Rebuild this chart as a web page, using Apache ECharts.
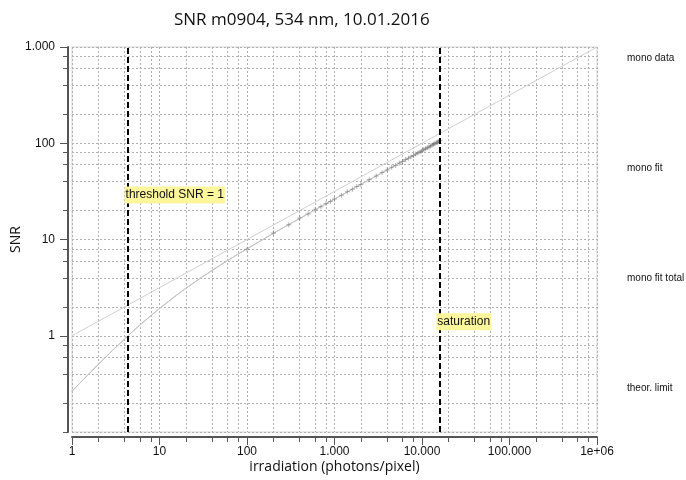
<!DOCTYPE html>
<html>
<head>
<meta charset="utf-8">
<script src="https://cdn.jsdelivr.net/npm/echarts@6/dist/echarts.min.js"></script>
<style>
  html, body { margin: 0; padding: 0; background: #fff; }
  #main { width: 686px; height: 480px; }
</style>
</head>
<body>
<div id="main"></div>
<script>
// tick positions and labels
var xTicks = [1, 2, 4, 6, 8, 10, 20, 40, 60, 80, 100, 200, 400, 600, 800,
    1000, 2000, 4000, 6000, 8000, 10000, 20000, 40000, 60000, 80000,
    100000, 200000, 400000, 600000, 800000, 1000000];
var xMajor = [1, 10, 100, 1000, 10000, 100000, 1000000];
var xLabels = ['1', '10', '100', '1.000', '10.000', '100.000', '1e+06'];
var yTicks = [0.1, 0.2, 0.4, 0.6, 0.8, 1, 2, 4, 6, 8, 10, 20, 40, 60, 80,
    100, 200, 400, 600, 800, 1000];
var yMajor = [1, 10, 100, 1000];
var yLabels = ['1', '10', '100', '1.000'];

// mono data
var dataX = [100, 200, 300, 400, 500, 600, 700, 800, 900, 1000, 1200, 1400, 1600, 1800, 2000,
    2500, 3000, 3500, 4000, 4500, 5000, 5500, 6000, 6500, 7000, 7500, 8000, 8500, 9000, 9500,
    10000, 10500, 11000, 11500, 12000, 12500, 13000, 13500, 14000, 14500, 15000, 15500, 16000];
var dataSnr = [7.9, 11.7, 14.2, 16.7, 18.4, 20.4, 21.9, 23.6, 24.8, 26.4, 28.8, 31.3, 33.3, 35.5, 37.2,
    41.9, 45.6, 49.6, 52.7, 56.3, 58.9, 62.2, 64.6, 67.6, 69.8, 72.6, 74.6, 77.3, 79.1, 81.8,
    83.4, 86.0, 87.6, 90.0, 91.5, 93.8, 95.3, 97.5, 99.0, 101.0, 102.6, 104.5, 106.5];

// mono fit
var fitX = [1, 1.5, 2, 3, 4.37, 6, 10, 15, 20, 30, 50, 70, 100, 150, 200, 300, 500, 700,
    1000, 1500, 2000, 3000, 5000, 7000, 10000, 16000];
var fitSnr = [0.265, 0.387, 0.505, 0.725, 1.0, 1.3, 1.92, 2.56, 3.11, 4.02, 5.45, 6.59, 8.01,
    9.95, 11.57, 14.28, 18.54, 21.99, 26.34, 32.31, 37.33, 45.76, 59.11, 69.96, 83.63, 105.8];

// theoretical limit
var theorX = [1, 10, 100, 1000, 10000, 100000, 1000000];
var theorSnr = [1, 3.162, 10, 31.62, 100, 316.2, 1000];

var thresholdX = 4.37;
var saturationX = 16000;
var thresholdLabelY = 29;
var saturationLabelY = 1.4;

function pairs(xs, ys) {
    var res = [];
    for (var i = 0; i < xs.length; i++) {
        res.push([xs[i], ys[i]]);
    }
    return res;
}

function labelOf(values, texts) {
    return function (v) {
        for (var i = 0; i < values.length; i++) {
            if (Math.abs(v / values[i] - 1) < 1e-6) return texts[i];
        }
        return '';
    };
}

var tickFont = 'Liberation Sans, Arial, sans-serif';
var titleFont = 'Open Sans, sans-serif';

var myChart = echarts.init(document.getElementById('main'));

var option = {
    animation: false,
    backgroundColor: '#ffffff',
    title: {
        text: 'SNR m0904, 534 nm, 10.01.2016',
        left: 169,
        top: 7,
        textStyle: { fontSize: 17, fontWeight: 'normal', fontFamily: titleFont, color: '#111' }
    },
    legend: {
        orient: 'vertical',
        left: 616,
        top: 48,
        itemWidth: 0,
        itemHeight: 0,
        itemGap: 100,
        selectedMode: false,
        textStyle: { fontSize: 10, fontFamily: tickFont, color: '#111' },
        data: ['mono data', 'mono fit', 'mono fit total', 'theor. limit']
    },
    grid: {
        left: 72,
        right: 89,
        top: 47,
        bottom: 48,
        outerBoundsMode: 'none',
        show: true,
        borderColor: '#d8d8d8',
        borderWidth: 1
    },
    xAxis: [{
        type: 'log',
        logBase: 10,
        min: 1,
        max: 1000000,
        position: 'bottom',
        offset: 5,
        name: 'irradiation (photons/pixel)',
        nameLocation: 'middle',
        nameGap: 23,
        nameMoveOverlap: false,
        nameTextStyle: { fontSize: 14, fontFamily: titleFont, color: '#111' },
        axisLine: { show: true, lineStyle: { color: '#555', width: 2 } },
        axisTick: { show: true, length: 5, customValues: xTicks, lineStyle: { color: '#555' } },
        axisLabel: {
            customValues: xMajor,
            formatter: labelOf(xMajor, xLabels),
            margin: 9,
            fontSize: 12,
            fontFamily: tickFont,
            color: '#111'
        },
        splitLine: { show: true, lineStyle: { color: '#b0b0b0', type: [2, 2], width: 1 } },
        minorTick: { show: false }
    }, {
        type: 'log',
        logBase: 10,
        min: 1,
        max: 1000000,
        position: 'bottom',
        offset: 5,
        axisLine: { show: false },
        axisTick: { show: true, length: 8, customValues: xMajor, lineStyle: { color: '#555' } },
        axisLabel: { show: false },
        splitLine: { show: false }
    }],
    yAxis: [{
        type: 'log',
        logBase: 10,
        min: 0.1,
        max: 1000,
        position: 'left',
        offset: 4,
        name: 'SNR',
        nameLocation: 'middle',
        nameGap: 45,
        nameMoveOverlap: false,
        nameTextStyle: { fontSize: 14, fontFamily: titleFont, color: '#111' },
        axisLine: { show: true, lineStyle: { color: '#555', width: 2 } },
        axisTick: { show: true, length: 5, customValues: yTicks, lineStyle: { color: '#555' } },
        axisLabel: {
            customValues: yMajor,
            formatter: labelOf(yMajor, yLabels),
            margin: 13,
            fontSize: 12,
            fontFamily: tickFont,
            color: '#111'
        },
        splitLine: { show: true, lineStyle: { color: '#b0b0b0', type: [2, 2], width: 1 } }
    }, {
        type: 'log',
        logBase: 10,
        min: 0.1,
        max: 1000,
        position: 'left',
        offset: 4,
        axisLine: { show: false },
        axisTick: { show: true, length: 8, customValues: yMajor, lineStyle: { color: '#555' } },
        axisLabel: { show: false },
        splitLine: { show: false }
    }],
    series: [
        {
            name: 'mono data',
            type: 'scatter',
            data: pairs(dataX, dataSnr),
            symbol: 'path://M2,0H3V2H5V3H3V5H2V3H0V2H2Z',
            symbolSize: 5,
            itemStyle: { color: 'rgba(70,70,70,0.5)' },
            z: 3
        },
        {
            name: 'mono fit',
            type: 'line',
            data: pairs(fitX, fitSnr),
            showSymbol: false,
            lineStyle: { color: '#bdbdbd', width: 1 },
            itemStyle: { color: '#bdbdbd' },
            markLine: {
                silent: true,
                symbol: ['none', 'none'],
                label: { show: false },
                lineStyle: { color: '#000', type: [6, 3], width: 2 },
                data: [{ xAxis: thresholdX }, { xAxis: saturationX }]
            },
            markPoint: {
                symbol: 'rect',
                symbolSize: 1,
                itemStyle: { color: 'rgba(0,0,0,0)' },
                label: {
                    show: true,
                    position: 'right',
                    distance: 0,
                    offset: [-4, 0],
                    formatter: '{b}',
                    fontSize: 12,
                    fontFamily: tickFont,
                    color: '#111',
                    backgroundColor: '#fbf59b',
                    padding: [3, 1, 2, 1]
                },
                data: [
                    { name: 'threshold SNR = 1', coord: [thresholdX, thresholdLabelY] },
                    { name: 'saturation', coord: [saturationX, saturationLabelY] }
                ],
                z: 10
            }
        },
        {
            name: 'mono fit total',
            type: 'line',
            data: pairs(fitX, fitSnr),
            showSymbol: false,
            lineStyle: { color: '#c4c4c4', width: 1 },
            itemStyle: { color: '#c4c4c4' }
        },
        {
            name: 'theor. limit',
            type: 'line',
            data: pairs(theorX, theorSnr),
            showSymbol: false,
            lineStyle: { color: '#cfcfcf', width: 1 },
            itemStyle: { color: '#cfcfcf' }
        }
    ]
};

myChart.setOption(option, true);
</script>
</body>
</html>
